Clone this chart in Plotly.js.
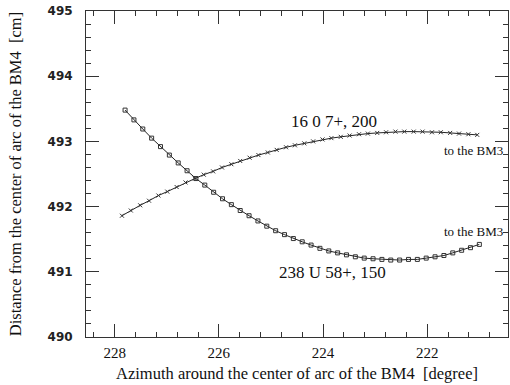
<!DOCTYPE html>
<html>
<head>
<meta charset="utf-8">
<script src="https://cdn.plot.ly/plotly-3.0.1.min.js"></script>
<style>html,body{margin:0;padding:0;background:#fff;}#chart{width:510px;height:385px;}</style>
</head>
<body>
<div id="chart"></div>
<script>
// 238 U 58+, 150 (open squares)
const uAzimuth = [227.80, 227.63, 227.46, 227.29, 227.12, 226.95, 226.78, 226.61, 226.44, 226.27,
  226.10, 225.93, 225.76, 225.59, 225.42, 225.25, 225.08, 224.91, 224.74, 224.57,
  224.40, 224.23, 224.06, 223.89, 223.72, 223.55, 223.38, 223.21, 223.04, 222.87,
  222.70, 222.53, 222.36, 222.19, 222.02, 221.85, 221.68, 221.51, 221.34, 221.17, 221.00];
const uDistance = [493.48, 493.33, 493.19, 493.05, 492.92, 492.79, 492.67, 492.55, 492.43, 492.33,
  492.22, 492.12, 492.03, 491.94, 491.86, 491.78, 491.70, 491.63, 491.57, 491.51,
  491.46, 491.41, 491.36, 491.32, 491.29, 491.26, 491.23, 491.21, 491.20, 491.19,
  491.18, 491.18, 491.19, 491.19, 491.21, 491.23, 491.25, 491.29, 491.33, 491.37, 491.42];

// 16 O 7+, 200 (crosses)
const oAzimuth = [227.86, 227.69, 227.51, 227.34, 227.16, 226.99, 226.81, 226.64, 226.46, 226.29,
  226.11, 225.94, 225.76, 225.59, 225.41, 225.24, 225.06, 224.89, 224.71, 224.54,
  224.36, 224.19, 224.01, 223.84, 223.66, 223.49, 223.31, 223.14, 222.96, 222.79,
  222.61, 222.44, 222.26, 222.09, 221.91, 221.74, 221.56, 221.39, 221.21, 221.04];
const oDistance = [491.86, 491.94, 492.02, 492.09, 492.17, 492.23, 492.30, 492.37, 492.43, 492.49,
  492.54, 492.60, 492.65, 492.70, 492.75, 492.79, 492.83, 492.87, 492.91, 492.94,
  492.97, 493.00, 493.03, 493.05, 493.07, 493.09, 493.11, 493.12, 493.13, 493.14,
  493.15, 493.15, 493.15, 493.15, 493.14, 493.14, 493.13, 493.12, 493.11, 493.10];

const labelO = "16 0 7+, 200";
const labelU = "238 U 58+, 150";
const labelBM3 = "to the BM3";
const xTitle = "Azimuth around the center of arc of the BM4  [degree]";
const yTitle = "Distance from the center of arc of the BM4  [cm]";

const serif = "Liberation Serif, Times New Roman, serif";

const traces = [
  {x: uAzimuth, y: uDistance, mode: 'lines+markers', type: 'scatter',
   line: {color: '#222', width: 1},
   marker: {symbol: 'square-open', size: 4, color: '#333', line: {width: 1}}},
  {x: oAzimuth, y: oDistance, mode: 'lines+markers', type: 'scatter',
   line: {color: '#222', width: 1},
   marker: {symbol: 'x-thin-open', size: 4, color: '#333', line: {width: 1, color: '#333'}}}
];

const axisCommon = {
  showgrid: false, zeroline: false, showline: true, linecolor: '#333', linewidth: 1,
  mirror: 'allticks', ticks: 'inside', ticklen: 13, tickwidth: 1, tickcolor: '#333'
};

const layout = {
  width: 510, height: 385,
  margin: {l: 86, r: 2, t: 11, b: 48},
  paper_bgcolor: '#fff', plot_bgcolor: '#fff',
  showlegend: false,
  xaxis: Object.assign({}, axisCommon, {
    range: [228.55, 220.45], autorange: false,
    tickmode: 'array', tickvals: [228, 226, 224, 222], ticktext: ['228', '226', '224', '222'],
    minor: {dtick: 0.4, tick0: 0, ticks: 'inside', ticklen: 5, tickcolor: '#333', showgrid: false},
    tickfont: {family: serif, size: 15, color: '#111'},
    ticklabelstandoff: 2,
    title: {text: xTitle, font: {family: serif, size: 16.5, color: '#111'}, standoff: 7}
  }),
  yaxis: Object.assign({}, axisCommon, {
    range: [490, 495], autorange: false,
    dtick: 1, tick0: 490,
    minor: {dtick: 0.2, ticks: 'inside', ticklen: 5, tickcolor: '#333', showgrid: false},
    tickfont: {family: "DejaVu Sans", size: 12, color: '#222', weight: 'bold'},
    ticklabelstandoff: 10,
    title: {text: yTitle, font: {family: serif, size: 16.5, color: '#111'}, standoff: 21}
  }),
  annotations: [
    {x: 223.79, y: 493.31, xref: 'x', yref: 'y', text: labelO, showarrow: false,
     font: {family: serif, size: 17, color: '#111'}},
    {x: 223.81, y: 490.99, xref: 'x', yref: 'y', text: labelU, showarrow: false,
     font: {family: serif, size: 17, color: '#111'}},
    {x: 221.72, y: 492.86, xref: 'x', yref: 'y', text: labelBM3, showarrow: false, xanchor: 'left',
     font: {family: serif, size: 13, color: '#111'}},
    {x: 221.72, y: 491.62, xref: 'x', yref: 'y', text: labelBM3, showarrow: false, xanchor: 'left',
     font: {family: serif, size: 13, color: '#111'}}
  ]
};

Plotly.newPlot('chart', traces, layout, {displayModeBar: false, staticPlot: true});
</script>
</body>
</html>
